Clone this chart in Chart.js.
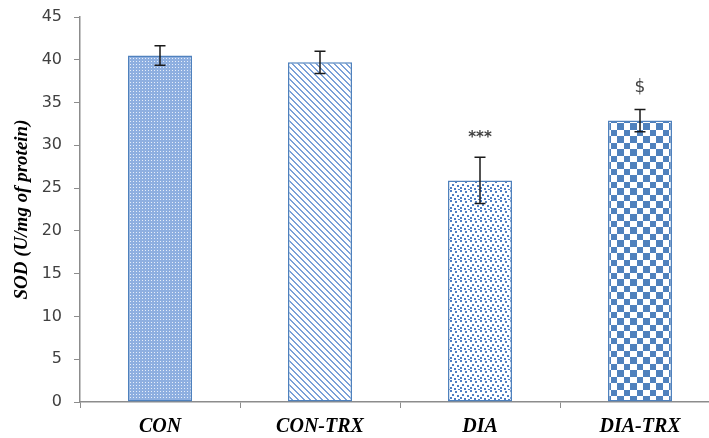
<!DOCTYPE html>
<html>
<head>
<meta charset="utf-8">
<script src="https://cdn.jsdelivr.net/npm/chart.js@4/dist/chart.umd.min.js"></script>
<style>
    html, body { margin: 0; padding: 0; background: #fff; overflow: hidden; }
    #wrap { width: 720px; height: 438px; }
</style>
</head>
<body>
<div id="wrap"><canvas id="sodChart" width="720" height="438"></canvas></div>
<script>
// ==============================
// DATA
// ==============================
const groups = ["CON", "CON-TRX", "DIA", "DIA-TRX"];
const sodMeans = [40.5, 39.7, 25.9, 32.9];
const sodErrors = [1.15, 1.3, 2.7, 1.3];
const sigMarks = ["", "", "***", "$"];
const yTicks = [0, 5, 10, 15, 20, 25, 30, 35, 40, 45];

const BLUE = "#4f81bd";

// ==============================
// BAR FILL PATTERNS
// ==============================
const canvas = document.getElementById("sodChart");
const ctx = canvas.getContext("2d");

function makePattern(size, draw) {
    const tile = document.createElement("canvas");
    tile.width = size;
    tile.height = size;
    const g = tile.getContext("2d");
    g.fillStyle = "#fff";
    g.fillRect(0, 0, size, size);
    draw(g, size);
    return ctx.createPattern(tile, "repeat");
}

// fine dotted grid
const patFine = makePattern(3, g => {
    g.fillStyle = "#8eafe0";
    g.fillRect(0, 0, 3, 3);
    g.fillStyle = "#e6eefa";
    g.fillRect(1, 1, 1, 1);
});

// diagonal stripes "\\"
const patDiag = makePattern(6, (g, s) => {
    g.fillStyle = "#7aa0d8";
    for (let y = 0; y < s; y++) {
        g.fillRect(y % s, y, 1, 1);
        g.fillRect((y + 1) % s, y, 1, 1);
    }
});

// confetti dots
const patDots = makePattern(10, g => {
    g.fillStyle = "#4f7fc4";
    [[0, 0], [5, 1], [2, 4], [7, 5], [0, 7], [4, 8], [8, 9]].forEach(p => {
        g.fillRect(p[0], p[1], 2, 2);
    });
});

// checkerboard
const patCheck = makePattern(13, g => {
    g.fillStyle = BLUE;
    g.fillRect(0, 0, 6, 6);
    g.fillRect(6, 6, 7, 7);
});

const barFills = [patFine, patDiag, patDots, patCheck];

// ==============================
// ERROR BARS + SIGNIFICANCE MARKS
// ==============================
const errorBarPlugin = {
    id: "errorBars",
    afterDatasetsDraw(chart) {
        const c = chart.ctx;
        const yScale = chart.scales.y;
        const meta = chart.getDatasetMeta(0);
        c.save();
        meta.data.forEach((bar, i) => {
            const x = bar.x;
            const top = yScale.getPixelForValue(sodMeans[i] + sodErrors[i]);
            const bot = yScale.getPixelForValue(sodMeans[i] - sodErrors[i]);
            c.strokeStyle = "#1a1a1a";
            c.lineWidth = 1.5;
            c.beginPath();
            c.moveTo(x, top);
            c.lineTo(x, bot);
            c.moveTo(x - 5.5, top);
            c.lineTo(x + 5.5, top);
            c.moveTo(x - 5.5, bot);
            c.lineTo(x + 5.5, bot);
            c.stroke();

            if (sigMarks[i]) {
                c.fillStyle = "#404040";
                c.textAlign = "center";
                c.textBaseline = "bottom";
                if (sigMarks[i] === "$") {
                    c.font = "17px 'DejaVu Sans'";
                    c.fillText(sigMarks[i], x, top - 13);
                } else {
                    c.font = "bold 15px 'DejaVu Sans'";
                    c.fillText(sigMarks[i], x, top - 12);
                }
            }
        });
        c.restore();
    }
};

// ==============================
// CHART
// ==============================
new Chart(canvas, {
    type: "bar",
    data: {
        labels: groups,
        datasets: [{
            data: sodMeans,
            backgroundColor: barFills,
            borderColor: BLUE,
            borderWidth: 1.5,
            borderSkipped: false,
            categoryPercentage: 1,
            barPercentage: 0.4
        }]
    },
    options: {
        responsive: false,
        animation: false,
        layout: { padding: { top: 17, left: 0, right: 0, bottom: 0 } },
        plugins: {
            legend: { display: false },
            tooltip: { enabled: false }
        },
        scales: {
            x: {
                grid: {
                    display: true,
                    drawOnChartArea: false,
                    drawTicks: true,
                    tickLength: 6,
                    color: "#8c8c8c",
                    offset: true
                },
                border: { color: "#8c8c8c", width: 1.5 },
                ticks: {
                    color: "#000",
                    padding: 7,
                    font: { family: "'Liberation Serif'", size: 20, style: "italic", weight: "bold" }
                },
                afterFit(scale) {
                    scale.height = 36;
                    scale.paddingLeft = 0;
                    scale.paddingRight = 0;
                }
            },
            y: {
                min: 0,
                max: 45,
                afterBuildTicks(scale) { scale.ticks = yTicks.map(v => ({ value: v })); },
                grid: {
                    display: true,
                    drawOnChartArea: false,
                    drawTicks: true,
                    tickLength: 6,
                    color: "#8c8c8c"
                },
                border: { color: "#8c8c8c", width: 1.5 },
                ticks: {
                    color: "#404040",
                    padding: 12,
                    font: { family: "'DejaVu Sans'", size: 16 }
                },
                title: {
                    display: true,
                    text: "SOD (U/mg of protein)",
                    color: "#000",
                    padding: { top: 11, bottom: 0 },
                    font: { family: "'Liberation Serif'", size: 19, style: "italic", weight: "bold" }
                },
                afterFit(scale) {
                    scale.width = 80;
                    scale.paddingTop = 0;
                    scale.paddingBottom = 0;
                }
            }
        }
    },
    plugins: [errorBarPlugin]
});
</script>
</body>
</html>
